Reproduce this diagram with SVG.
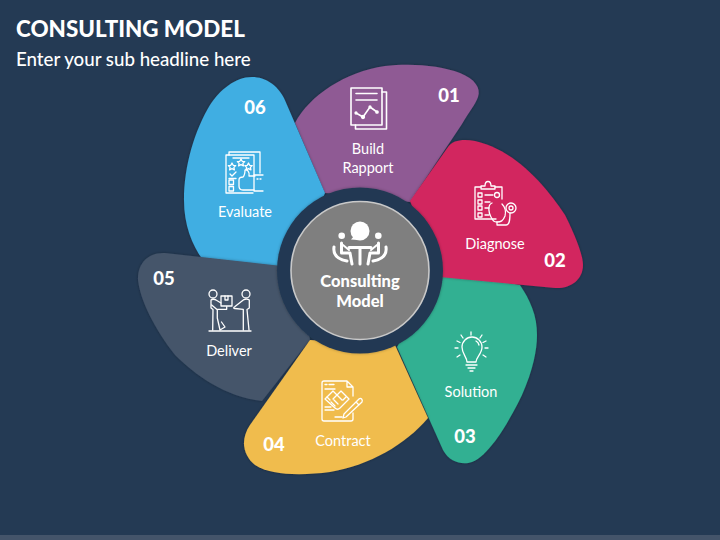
<svg xmlns="http://www.w3.org/2000/svg" width="720" height="540" viewBox="0 0 720 540">
<style>
text{font-family:Lato,"Liberation Sans",sans-serif;fill:#fff;text-anchor:middle}
.lb{font-size:14.5px}
.nm{font-size:18.5px;font-weight:900}
.ic{fill:none;stroke:#fff;stroke-width:1.3;stroke-linecap:round;stroke-linejoin:round}
.ict{fill:none;stroke:#fff;stroke-width:3;stroke-linecap:round;stroke-linejoin:round}
.pt{filter:url(#sh)}
</style>
<defs>
<filter id="sh" x="-20%" y="-20%" width="140%" height="140%"><feDropShadow dx="0" dy="0" stdDeviation="1.500" flood-color="#000" flood-opacity="0.3"/></filter>
</defs>
<rect width="720" height="540" fill="#243a54"/>
<rect y="535" width="720" height="5" fill="#44546a"/>
<text x="16" y="37" style="text-anchor:start;font-size:22.4px;font-weight:900">CONSULTING MODEL</text>
<text x="16" y="66" style="text-anchor:start;font-size:18.7px;font-weight:500">Enter your sub headline here</text>

<g id="petal-03">
<path class="pt" fill="#30b092" d="M397,347 L443,450 C450,463 463,465 472,462 C490,455 510,420 522,395 C533,370 537,350 537,335 C537,315 530,300 520,285 L440,270 Z"/>
<g class="ic">
<path d="M467,362 L476,362 C476,357 482,354 482,347 A10,10 0 0 0 462,347 C462,354 467,357 467,362 Z"/>
<path d="M466,365 H477 M468,368 H475 M470,371 H473"/>
<path d="M476,341 A6,6 0 0 1 479,345"/>
<path d="M471,332 V335 M461,335 L463,338 M482,335 L480,338 M457,341 L460,342.500 M486,341 L483,342.500 M455,348 H458 M488,348 H485 M457,357 L460,355 M486,357 L483,355"/>
</g>
<text class="lb" x="471" y="397">Solution</text>
<text class="nm" x="465" y="443">03</text>
</g>

<g id="petal-01">
<path class="pt" fill="#8f5a94" d="M325,193 L295,123 C310,95 345,72 385,66 C410,63 440,65 460,73 C475,79 481,88 478,97 C475,105 469,112 462,124 L410,202 Z"/>
<g class="ic">
<rect x="351" y="88" width="31" height="37" stroke-width="1.600"/>
<path d="M382,92 H386.500 V129 H355.500 V125" stroke-width="1.600"/>
<path d="M356,93.500 H377 M356,100 H377" stroke-width="1.600"/>
<path d="M356,113 L363,117 L370,107 L377,112" stroke-width="1.600"/>
<circle cx="356" cy="113" r="1" fill="#fff"/><circle cx="363" cy="117" r="1.500" fill="#fff"/><circle cx="370" cy="107" r="1" fill="#fff"/><circle cx="377" cy="112" r="1.200" fill="#fff"/>
</g>
<text class="lb" x="368" y="154">Build</text>
<text class="lb" x="368" y="173">Rapport</text>
<text class="nm" x="449" y="102">01</text>
</g>

<g id="petal-02">
<path class="pt" fill="#d2255f" d="M410,201 L448,147 C453,140 463,139 475,141 C515,150 545,185 565,215 C575,235 583,255 583,265 C583,280 570,289 555,288 L440,277 Z"/>
<g class="ic">
<path d="M496,219 H475 V187 H481 M495,187 H502 V199"/>
<path d="M481,189 V186 H485 C485,180 491,180 491,186 H495 V189 Z"/>
<path d="M478,193 h4 v4 h-4 z M478,200 h4 v4 h-4 z M478,206 h4 v4 h-4 z M478,213 h4 v4 h-4 z"/>
<path d="M485,195 H493 M485,202 H490 M485,208 H489 M485,215 H489"/>
<circle cx="497" cy="195" r="2.500"/>
<path d="M492,203 C487,205 489,214 491,217 C493,221 494,222 497,222 C501,222 503,221 505,216 C506,212 505,207 502,204"/>
<path d="M497,222 V225 H506 C509,225 510,222 510,213"/>
<circle cx="511" cy="208" r="5"/><circle cx="511" cy="208" r="2"/>
</g>
<text class="lb" x="495" y="249">Diagnose</text>
<text class="nm" x="555" y="267">02</text>
</g>

<g id="petal-06">
<path class="pt" fill="#41aee2" d="M325,193 L287,105 C280,85 265,77 252,77 C235,77 220,90 210,105 C195,130 184,165 184,200 C184,225 192,245 203,260 L290,275 Z"/>
<g class="ic">
<path d="M254,175 V155 H226 V193 H253"/>
<path d="M229,155 V152 H260 V173"/>
<path d="M233,158 H249"/>
<path d="M232,163 l1.200,2.300 2.500,.3 -1.800,1.800 .5,2.500 -2.400,-1.200 -2.400,1.200 .5,-2.500 -1.800,-1.800 2.500,-.3 z"/>
<path d="M241,159 l1.200,2.300 2.500,.3 -1.800,1.800 .5,2.500 -2.400,-1.200 -2.400,1.200 .5,-2.500 -1.800,-1.800 2.500,-.3 z"/>
<path d="M248.500,163 l1.200,2.300 2.500,.3 -1.800,1.800 .5,2.500 -2.400,-1.200 -2.400,1.200 .5,-2.500 -1.800,-1.800 2.500,-.3 z"/>
<path d="M230,174 l2,2 4,-4 M229,178.500 H236"/>
<path d="M229,180 h4.500 v4.500 h-4.500 z M229,186.500 h4.500 v4.500 h-4.500 z"/>
<path d="M254,190 H243 C240,190 239,188 239,186 V180 C239,178 241,177 243,177 C245,175 245,172 245,170 C247,169 250,172 249,176 H255"/>
<path d="M254,175 H263 M254,191 H263 M254,175 V191"/>
<path d="M257,179 H258 M260,179 H261"/>
</g>
<text class="lb" x="245" y="217">Evaluate</text>
<text class="nm" x="255" y="114">06</text>
</g>

<g id="petal-05">
<path class="pt" fill="#44546a" d="M165,253 L300,268 L310,340 L262,401 C225,397 195,375 175,355 C155,330 140,300 138,280 C137,262 150,252 165,253 Z"/>
<g class="ic">
<circle cx="213" cy="294" r="4"/><circle cx="246" cy="294" r="4"/>
<rect x="221" y="296" width="11" height="10"/>
<path d="M225,296 V300 H228 V296"/>
<path d="M209,331 H251"/>
<path d="M216,300 L221,303 M211,300 V308 L213,309.500 L212.700,330 M211,300 C212,299 215,299 216,300"/>
<path d="M211.700,305 L216.700,309.300 H226.700 V306.700 M217.300,309.300 V318 L220,330 L225,327 L221.500,322"/>
<path d="M243.300,300 L235,306.500 C233,307.500 233.500,308.500 235,308.500 L243.300,309.300 V330 M243.300,300 C245,299 248,299 249.300,300 V308 L247,309.500 L249,330"/>
</g>
<text class="lb" x="229" y="356">Deliver</text>
<text class="nm" x="164" y="285">05</text>
</g>

<g id="petal-04">
<path class="pt" fill="#f0bc4e" d="M310,340 L250,425 C240,440 243,455 255,465 C270,475 300,476 330,472 C370,465 405,445 428,418 L395,345 Z"/>
<g class="ic">
<path d="M347,381 H324 C322.500,381 322,382 322,383 V419 C322,420.500 323,421 324,421 H351 C352,421 353,420.500 353,419 V413 M353,396 V387 L347,381 V387 H353"/>
<path d="M325,384.500 H327 M329,384.500 H334 M325,389 H335 M325,407 H331 M325,410 H334 M335,417 H342"/>
<path d="M325,399 L333,391 L337,395 L341,391 L349,399 L340,408 C338,410 336,409 335,408 Z"/>
<path d="M327,397 L330,400 M346,397 L343,400 M333,399 L337,395 L342,400 M331,402 L335,406 M334,400 L338,404"/>
<path d="M346,417 L343,418 L344,414 L359,399 C361,397 363,400 362,402 Z M356,402 L359,405"/>
</g>
<text class="lb" x="343" y="446">Contract</text>
<text class="nm" x="274" y="451">04</text>
</g>

<g id="center">
<circle class="pt" cx="360" cy="270.500" r="83" fill="#233953"/>
<circle cx="360" cy="270.500" r="69" fill="#7f7f7f" stroke="#c9c9c9" stroke-width="1.600"/>
<circle cx="360" cy="231" r="9.500" fill="#fff"/>
<path d="M354,236 L351,239.500 L358,240 Z" fill="#fff"/>
<circle cx="341.700" cy="235.700" r="3.300" fill="#fff"/>
<circle cx="378.300" cy="235.700" r="3.300" fill="#fff"/>
<path class="ict" d="M349,247.500 H371 M360,247.500 V264" stroke-width="4"/>
<path class="ict" d="M341.500,243 V253 H350 L352,264 M378.500,243 V253 H370 L368,264"/>
<path class="ict" d="M334,247 C333,254 336,259 347,261 M386,247 C387,254 384,259 373,261"/>
<path class="ict" style="stroke-width:2" d="M343,245 L349,250 M377,245 L371,250"/>
<text x="360" y="287" style="font-size:16.500px;font-weight:900">Consulting</text>
<text x="360" y="307" style="font-size:16.500px;font-weight:900">Model</text>
</g>
</svg>
